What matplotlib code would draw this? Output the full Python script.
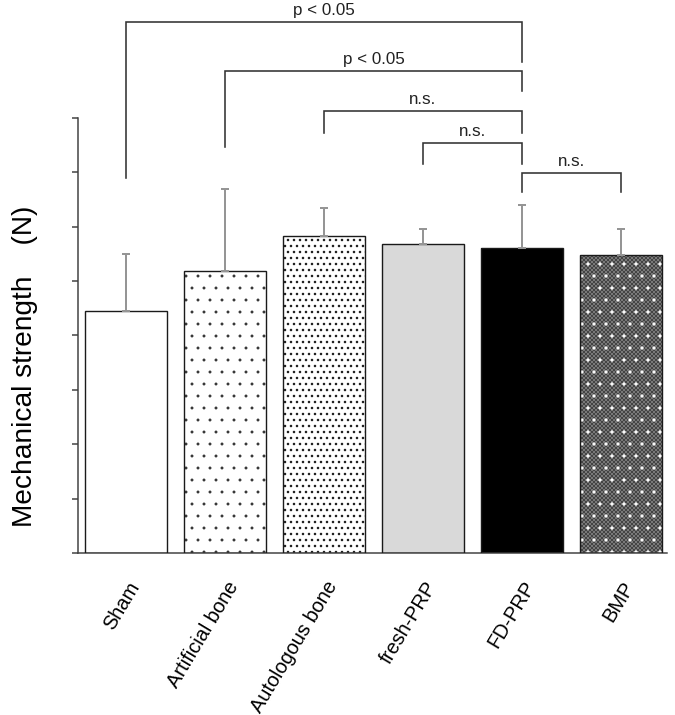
import numpy as np
import matplotlib
matplotlib.use("Agg")
from matplotlib import pyplot as plt
from matplotlib.transforms import ScaledTranslation

plt.rcParams['font.family'] = ['Liberation Sans', 'DejaVu Sans']

groups = ["Sham", "Artificial bone", "Autologous bone", "fresh-PRP", "FD-PRP", "BMP"]
means = [4.45, 5.19, 5.83, 5.68, 5.61, 5.48]
errors = [1.05, 1.50, 0.51, 0.28, 0.79, 0.48]

# comparisons: (left group, right group, label)
comparisons = [(0, 4, "p < 0.05"), (1, 4, "p < 0.05"), (2, 4, "n.s."),
               (3, 4, "n.s."), (4, 5, "n.s.")]
# bracket heights: top, left leg end, right leg end
bracket_top = [9.77, 8.86, 8.13, 7.54, 6.99]
bracket_left = [6.90, 7.47, 7.72, 7.15, 6.64]
bracket_right = [9.03, 8.50, 7.72, 7.15, 6.64]

faces = ["white", "white", "white", "#d9d9d9", "black", "#8c8c8c"]
hatches = [None, ".", "..", None, None, "xxxxxx"]
hatch_cols = ["black", "#303030", "#202020", "black", "black", "#444444"]
hatch_lw = [1.0, 0.4, 1.3, 1.0, 1.0, 1.0]

DPI = 72
fig = plt.figure(figsize=(675 / DPI, 715 / DPI), dpi=DPI)
ax = fig.add_axes([78 / 675, 162 / 715, 589 / 675, 435 / 715])

x = np.arange(len(groups))
w = 0.82
for i in range(len(groups)):
    with plt.rc_context({'hatch.linewidth': hatch_lw[i]}):
        ax.bar(x[i], means[i], w, color=faces[i], hatch=hatches[i],
               edgecolor=hatch_cols[i], linewidth=0, zorder=2)
# white dots on BMP
with plt.rc_context({'hatch.linewidth': 0.8}):
    ax.bar(x[5], means[5], w, fill=False, hatch=".", edgecolor="white", linewidth=0, zorder=2.5)
ax.bar(x, means, w, fill=False, edgecolor="#1a1a1a", linewidth=1.4, zorder=3)

ax.errorbar(x, means, yerr=[np.zeros(len(x)), errors], fmt="none", ecolor="#959595",
            elinewidth=2, capsize=4, capthick=2, zorder=4)

for k, (a, b, lab) in enumerate(comparisons):
    ax.plot([a, a, b, b], [bracket_left[k], bracket_top[k], bracket_top[k], bracket_right[k]],
            color="#333333", lw=1.6, clip_on=False, solid_joinstyle="miter")
    ax.annotate(lab, ((a + b) / 2, bracket_top[k]), xytext=(0, 4), textcoords="offset points",
                ha="center", va="bottom", fontsize=17, color="#222222", annotation_clip=False)

ax.set_xlim(-0.485, 5.465)
ax.set_ylim(0, 8)
ax.set_yticks(np.arange(0, 9))
ax.set_yticklabels([])
ax.tick_params(axis="y", length=6, width=1.5, color="#404040", direction="out")
ax.set_xticks(x, groups, rotation=59, ha="right", va="center", rotation_mode="anchor", fontsize=20)
ax.tick_params(axis="x", length=0, pad=30)
for lbl in ax.get_xticklabels():
    lbl.set_transform(lbl.get_transform() + ScaledTranslation(9 / DPI, 0, fig.dpi_scale_trans))

for s in ["top", "right"]:
    ax.spines[s].set_visible(False)
for s in ["left", "bottom"]:
    ax.spines[s].set_linewidth(1.5)
    ax.spines[s].set_color("#404040")

ax.set_ylabel("Mechanical strength    (N)", fontsize=28)
ax.yaxis.set_label_coords(-0.068, 0.43)

fig.savefig("out.png", dpi=DPI)
